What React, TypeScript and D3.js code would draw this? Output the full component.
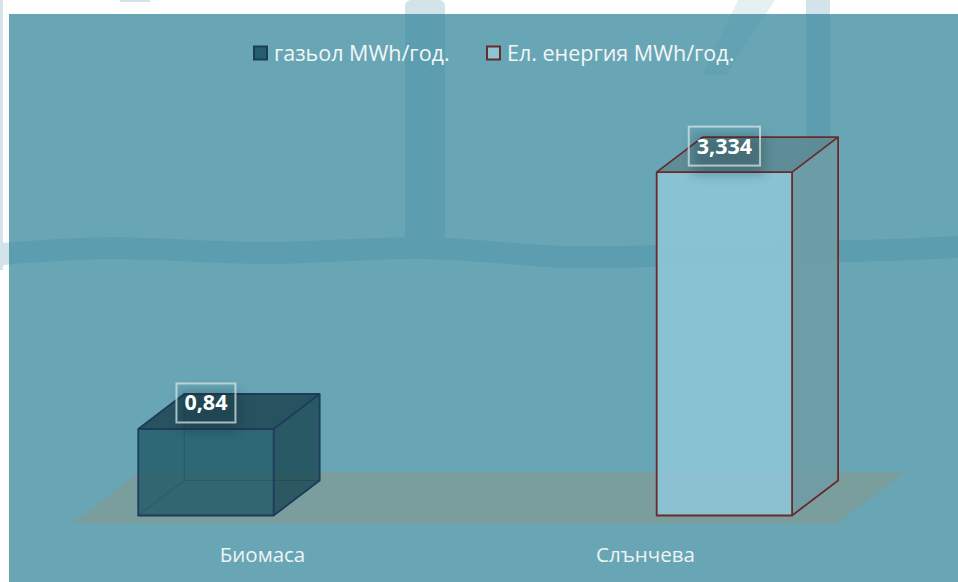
import React, { useEffect, useRef } from 'react'
import * as d3 from 'd3'

const categories = ['Биомаса', 'Слънчева']
const seriesNames = ['газьол MWh/год.', 'Ел. енергия MWh/год.']
const gasOil: (number | null)[] = [0.84, null]
const electricity: (number | null)[] = [null, 3.334]

const W = 958
const H = 582
const FONT = '"Open Sans", "Noto Sans", sans-serif'

const styles = [
  { front: '#255e6b', top: '#1e4854', side: '#1f4b57', stroke: '#1e3b5c', hidden: '#2f5566', alpha: 0.92 },
  { front: '#8cc4d5', top: '#5d8a93', side: '#6e9ca6', stroke: '#6a2b2b', hidden: '#7aa3ae', alpha: 1 },
]

const fmt = (v: number) => String(v).replace('.', ',')

export default function App() {
  const ref = useRef<SVGSVGElement>(null)

  useEffect(() => {
    if (!ref.current) return
    const svg = d3.select(ref.current)
    svg.selectAll('*').remove()

    // page background + watermark shapes
    svg.append('rect').attr('width', W).attr('height', H).attr('fill', '#ffffff')
    const wm = svg.append('g').attr('fill', '#d2e4ea').attr('stroke', 'none')
    wm.append('rect').attr('x', 0).attr('y', 0).attr('width', 3).attr('height', 270)
    wm.append('rect').attr('x', 405).attr('y', 0).attr('width', 40).attr('height', 250).attr('rx', 6)
    wm.append('rect').attr('x', 806).attr('y', 0).attr('width', 24).attr('height', 250)
    wm.append('path').attr('d', 'M738,0 L775,0 L726,75 L702,75 Z').attr('fill', '#e6f0f3')
    wm.append('rect').attr('x', 120).attr('y', 0).attr('width', 30).attr('height', 2)

    const waveLine = d3.line<[number, number]>().curve(d3.curveBasis)
    const wavePts: [number, number][] = [
      [-20, 256], [120, 244], [265, 258], [428, 242], [560, 262], [720, 252], [860, 252], [980, 246],
    ]
    wm.append('path')
      .attr('d', waveLine(wavePts))
      .attr('fill', 'none')
      .attr('stroke', '#d2e4ea')
      .attr('stroke-width', 22)

    // teal overlay
    svg.append('rect')
      .attr('x', 9).attr('y', 14).attr('width', W - 9).attr('height', H - 14)
      .attr('fill', 'rgb(42,128,149)').attr('fill-opacity', 0.7)

    const defs = svg.append('defs')
    defs.append('filter').attr('id', 'blur').attr('x', '-50%').attr('y', '-50%').attr('width', '200%').attr('height', '200%')
      .append('feGaussianBlur').attr('stdDeviation', 6)

    // 3D geometry
    const floorFront = 524
    const floorDepth = 52
    const k = 46 / 35 // x shift per y of depth
    const barDepth = 35
    const inset = (floorDepth - barDepth) / 2

    const x = d3.scaleBand<string>().domain(categories).range([71, 837]).padding(0)
    const xs = d3.scaleBand<string>().domain(seriesNames).range([0, x.bandwidth()])
      .paddingInner(0).paddingOuter(0.414)
    const y = d3.scaleLinear().domain([0, 4]).range([floorFront - inset, floorFront - inset - 412])

    // floor
    const fx0 = x.range()[0], fx1 = x.range()[1]
    const fdx = floorDepth * k
    svg.append('path')
      .attr('d', `M${fx0},${floorFront} L${fx1},${floorFront} L${fx1 + fdx},${floorFront - floorDepth} L${fx0 + fdx},${floorFront - floorDepth} Z`)
      .attr('fill', '#7e9c9a').attr('fill-opacity', 0.85)

    const allSeries = [gasOil, electricity]
    const bars: { cat: string; si: number; v: number }[] = []
    allSeries.forEach((vals, si) => vals.forEach((v, ci) => {
      if (v != null) bars.push({ cat: categories[ci], si, v })
    }))

    const dx = barDepth * k
    const dy = barDepth
    const labels: { cx: number; top: number; text: string }[] = []

    bars.forEach(b => {
      const st = styles[b.si]
      const x0 = (x(b.cat) ?? 0) + (xs(seriesNames[b.si]) ?? 0) + inset * k
      const x1 = x0 + xs.bandwidth()
      const yb = y(0)
      const yt = y(b.v)
      const g = svg.append('g')
      // hidden edges
      g.append('path')
        .attr('d', `M${x0},${yb} L${x0 + dx},${yb - dy} L${x1 + dx},${yb - dy} M${x0 + dx},${yb - dy} L${x0 + dx},${yt - dy}`)
        .attr('fill', 'none').attr('stroke', st.hidden).attr('stroke-width', 1.2)
      // front
      g.append('rect')
        .attr('x', x0).attr('y', yt).attr('width', x1 - x0).attr('height', yb - yt)
        .attr('fill', st.front).attr('fill-opacity', st.alpha * 0.93)
      // side
      g.append('path')
        .attr('d', `M${x1},${yt} L${x1 + dx},${yt - dy} L${x1 + dx},${yb - dy} L${x1},${yb} Z`)
        .attr('fill', st.side).attr('fill-opacity', 0.85)
      // top
      g.append('path')
        .attr('d', `M${x0},${yt} L${x1},${yt} L${x1 + dx},${yt - dy} L${x0 + dx},${yt - dy} Z`)
        .attr('fill', st.top).attr('fill-opacity', 0.88)
      // edges
      g.append('path')
        .attr('d', `M${x0},${yb} L${x0},${yt} L${x0 + dx},${yt - dy} L${x1 + dx},${yt - dy} L${x1 + dx},${yb - dy} L${x1},${yb} Z M${x0},${yt} L${x1},${yt} L${x1 + dx},${yt - dy} M${x1},${yt} L${x1},${yb}`)
        .attr('fill', 'none').attr('stroke', st.stroke).attr('stroke-width', 1.8).attr('stroke-linejoin', 'round')
      labels.push({ cx: (x0 + x1) / 2, top: yt, text: fmt(b.v) })
    })

    // data labels
    labels.forEach(l => {
      const g = svg.append('g')
      const t = g.append('text')
        .attr('x', l.cx).attr('y', l.top - 18.5)
        .attr('text-anchor', 'middle')
        .style('font-family', FONT).style('font-size', '21.5px').style('font-weight', 'bold')
        .attr('fill', '#ffffff')
        .text(l.text)
      const bw = ((t.node() as SVGTextElement).getComputedTextLength()) + 16
      g.insert('rect', 'text')
        .attr('x', l.cx - bw / 2 + 4).attr('y', l.top - 38).attr('width', bw).attr('height', 40)
        .attr('fill', '#0d2a33').attr('opacity', 0.3).attr('filter', 'url(#blur)')
      g.insert('rect', 'text')
        .attr('x', l.cx - bw / 2).attr('y', l.top - 45.5).attr('width', bw).attr('height', 39)
        .attr('fill', 'none').attr('stroke', '#d6e3e6').attr('stroke-opacity', 0.75).attr('stroke-width', 2)
    })

    // category labels
    svg.append('g').selectAll('text').data(categories).join('text')
      .attr('x', d => (x(d) ?? 0) + x.bandwidth() / 2)
      .attr('y', 562)
      .attr('text-anchor', 'middle')
      .style('font-family', FONT).style('font-size', '20.5px')
      .attr('fill', '#eef3f4')
      .text(d => d)

    // legend
    const legendX = [253, 486]
    const lg = svg.append('g')
    seriesNames.forEach((name, i) => {
      lg.append('rect')
        .attr('x', legendX[i] + 1).attr('y', 46.5).attr('width', 13).attr('height', 13)
        .attr('fill', styles[i].front).attr('stroke', styles[i].stroke).attr('stroke-width', 2)
      lg.append('text')
        .attr('x', legendX[i] + 21).attr('y', 61)
        .style('font-family', FONT).style('font-size', '21.5px')
        .attr('fill', '#f2f6f7')
        .text(name)
    })
  }, [])

  return (
    <div style={{ position: 'absolute', left: 0, top: 0 }}>
      <svg ref={ref} width={W} height={H} style={{ display: 'block' }} />
    </div>
  )
}
